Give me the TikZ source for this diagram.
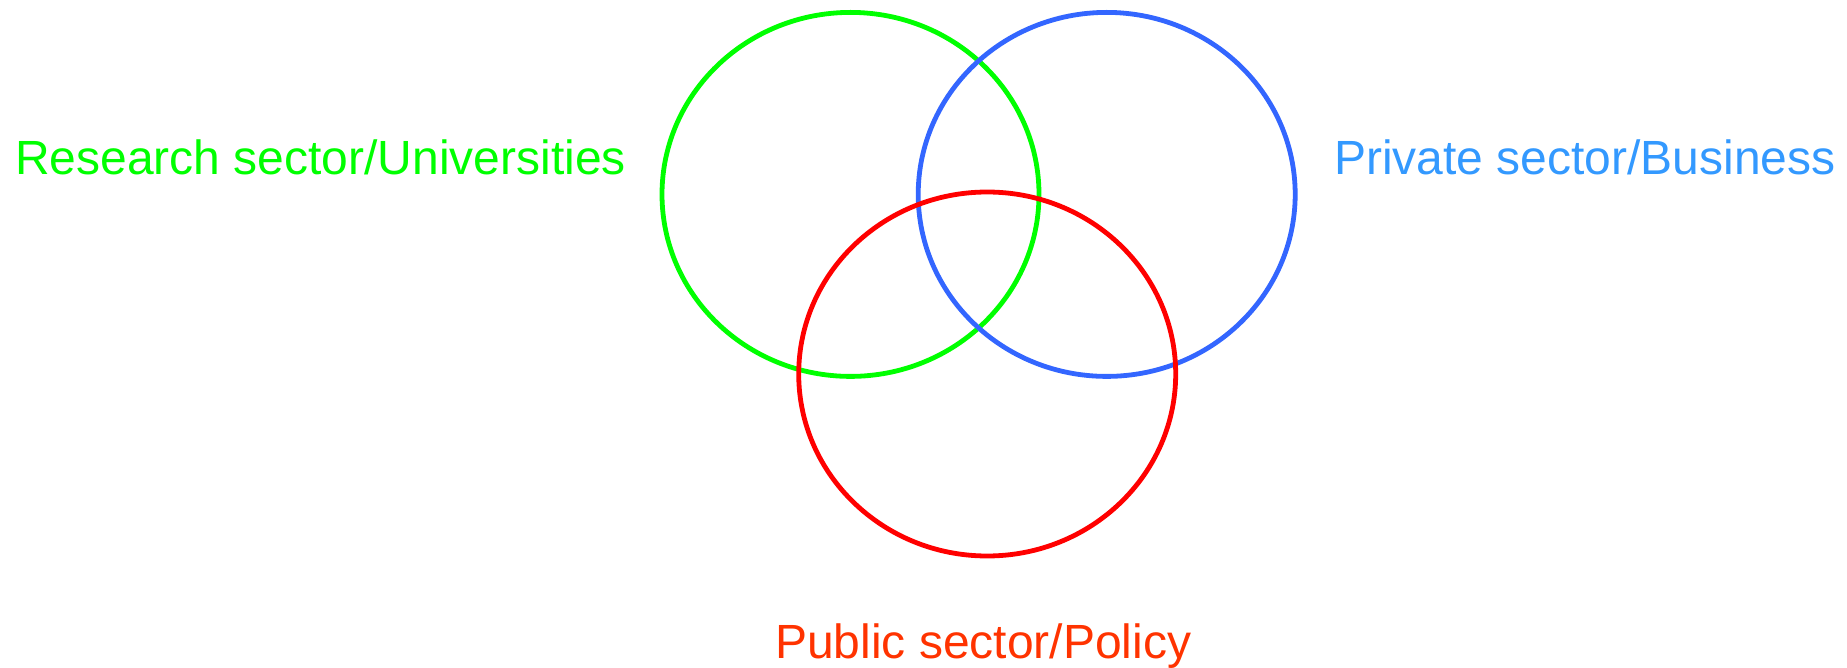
\documentclass[tikz,border=0pt]{standalone}
\usepackage{fontspec}
\setmainfont{Liberation Sans}
\definecolor{cgreen}{HTML}{00FF00}
\definecolor{cblue}{HTML}{3366FF}
\definecolor{cbluetext}{HTML}{3399FF}
\definecolor{cred}{HTML}{FF0000}
\definecolor{credtext}{HTML}{FF3300}
\begin{document}
\begin{tikzpicture}[x=1pt,y=-1pt,
  ring/.style={line width=4.8pt},
  lbl/.style={anchor=base west,inner sep=0pt,font=\fontsize{48}{56}\selectfont}]
\useasboundingbox (0,0) rectangle (1847,668);
\draw[ring,cgreen] (850.5,194.4) ellipse [x radius=188.5, y radius=182];
\draw[ring,cblue] (1106.7,194.4) ellipse [x radius=188.5, y radius=182];
\draw[ring,cred] (987.2,374) ellipse [x radius=188.5, y radius=182];
\node[lbl,text=cgreen] (research) at (15,175) {Research sector/Universities};
\node[lbl,text=cbluetext] (private) at (1334,174.5) {Private sector/Business};
\node[lbl,text=credtext] (public) at (775,658) {Public sector/Policy};
\end{tikzpicture}
\end{document}
